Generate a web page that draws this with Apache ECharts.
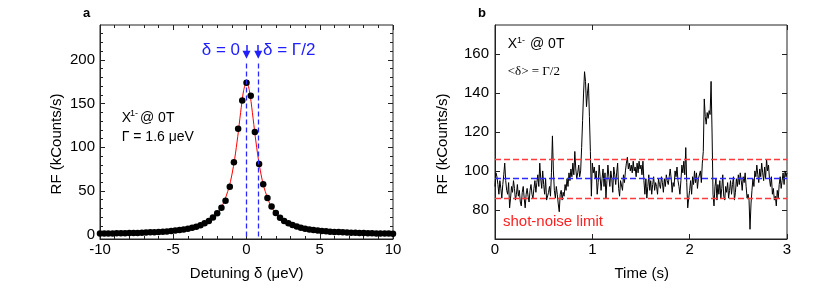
<!DOCTYPE html>
<html><head><meta charset="utf-8">
<script src="https://cdn.jsdelivr.net/npm/echarts@6/dist/echarts.min.js"></script>
<style>html,body{margin:0;padding:0;background:#fff}#c{width:830px;height:291px}</style>
</head><body><div id="c"></div>
<script>
// ---- Panel a: detuning scan ----
const detuning = [-10.00,-9.71,-9.43,-9.14,-8.86,-8.57,-8.29,-8.00,-7.71,-7.43,-7.14,-6.86,-6.57,-6.29,-6.00,-5.71,-5.43,-5.14,-4.86,-4.57,-4.29,-4.00,-3.71,-3.43,-3.14,-2.86,-2.57,-2.29,-2.00,-1.71,-1.43,-1.14,-0.86,-0.57,-0.29,0.00,
  0.29,0.57,0.86,1.14,1.43,1.71,2.00,2.29,2.57,2.86,3.14,3.43,3.71,4.00,4.29,4.57,4.86,5.14,5.43,5.71,6.00,6.29,6.57,6.86,7.14,7.43,7.71,8.00,8.29,8.57,8.86,9.14,9.43,9.71,10.00];
const rfCounts = [1.2,1.3,1.3,1.4,1.5,1.6,1.7,1.8,1.9,2.0,2.2,2.4,2.6,2.8,3.1,3.4,3.7,4.1,4.6,5.2,5.9,6.8,7.9,9.1,10.8,12.9,15.6,19.6,24.4,30.8,38.8,54.7,82.9,121.3,153.6,174,
  159,117.5,81,57.7,41.8,32.1,24.8,19.4,15.7,12.9,10.9,9.2,7.9,6.8,6.0,5.3,4.7,4.2,3.8,3.4,3.1,2.9,2.6,2.4,2.2,2.1,1.9,1.8,1.7,1.5,1.4,1.4,1.3,1.2,1.1];
const fitX = [-10,-8,-6,-5,-4,-3,-2.5,-2,-1.6,-1.2,-1.0,-0.8,-0.6,-0.4,-0.2,0,0.2,0.4,0.6,0.8,1.0,1.2,1.6,2,2.5,3,4,5,6,8,10];
const fitY = [1.1,1.7,3.1,4.4,6.7,11.6,16.3,24.1,35,53.8,68.3,87.5,112,140,164.7,175,164.7,140,112,87.5,68.3,53.8,35,24.1,16.3,11.6,6.7,4.4,3.1,1.7,1.1];
const markerX = [0, 0.8];
const yTicksA = [0,50,100,150,200];
const yMinorA = [10,20,30,40,60,70,80,90,110,120,130,140,160,170,180,190,210,220,230];

// ---- Panel b: time trace ----
const rfTime = [
0.00,0.01,0.02,0.03,0.04,0.05,0.06,0.07,0.08,0.09,
0.10,0.11,0.12,0.13,0.14,0.15,0.16,0.17,0.18,0.19,
0.20,0.21,0.22,0.23,0.24,0.25,0.26,0.27,0.28,0.29,
0.30,0.31,0.32,0.33,0.34,0.35,0.36,0.37,0.38,0.39,
0.40,0.41,0.42,0.43,0.44,0.45,0.46,0.47,0.48,0.49,
0.50,0.51,0.52,0.53,0.54,0.55,0.56,0.57,0.58,0.59,
0.60,0.61,0.62,0.63,0.64,0.65,0.66,0.67,0.68,0.69,
0.70,0.71,0.72,0.73,0.74,0.75,0.76,0.77,0.78,0.79,
0.80,0.81,0.82,0.83,0.84,0.85,0.86,0.87,0.88,0.89,
0.90,0.91,0.92,0.93,0.94,0.95,0.96,0.97,0.98,0.99,
1.00,1.01,1.02,1.03,1.04,1.05,1.06,1.07,1.08,1.09,
1.10,1.11,1.12,1.13,1.14,1.15,1.16,1.17,1.18,1.19,
1.20,1.21,1.22,1.23,1.24,1.25,1.26,1.27,1.28,1.29,
1.30,1.31,1.32,1.33,1.34,1.35,1.36,1.37,1.38,1.39,
1.40,1.41,1.42,1.43,1.44,1.45,1.46,1.47,1.48,1.49,
1.50,1.51,1.52,1.53,1.54,1.55,1.56,1.57,1.58,1.59,
1.60,1.61,1.62,1.63,1.64,1.65,1.66,1.67,1.68,1.69,
1.70,1.71,1.72,1.73,1.74,1.75,1.76,1.77,1.78,1.79,
1.80,1.81,1.82,1.83,1.84,1.85,1.86,1.87,1.88,1.89,
1.90,1.91,1.92,1.93,1.94,1.95,1.96,1.97,1.98,1.99,
2.00,2.01,2.02,2.03,2.04,2.05,2.06,2.07,2.08,2.09,
2.10,2.11,2.12,2.13,2.14,2.15,2.16,2.17,2.18,2.19,
2.20,2.21,2.22,2.23,2.24,2.25,2.26,2.27,2.28,2.29,
2.30,2.31,2.32,2.33,2.34,2.35,2.36,2.37,2.38,2.39,
2.40,2.41,2.42,2.43,2.44,2.45,2.46,2.47,2.48,2.49,
2.50,2.51,2.52,2.53,2.54,2.55,2.56,2.57,2.58,2.59,
2.60,2.61,2.62,2.63,2.64,2.65,2.66,2.67,2.68,2.69,
2.70,2.71,2.72,2.73,2.74,2.75,2.76,2.77,2.78,2.79,
2.80,2.81,2.82,2.83,2.84,2.85,2.86,2.87,2.88,2.89,
2.90,2.91,2.92,2.93,2.94,2.95,2.96,2.97,2.98,2.99,
3.00];
const rfTrace = [
92,99,97,93,88,95,91,86,93,98,
104,95,90,88,94,81,86,92,89,95,
91,85,88,93,87,90,84,82,89,92,
86,81,88,91,87,84,90,93,88,86,
91,95,89,94,98,92,104,96,91,100,
93,88,96,85,84,89,92,87,99,118,
100,90,86,92,88,83,79,88,90,85,
89,87,93,90,96,92,99,95,101,97,
104,98,110,101,96,99,103,97,100,112,
126,140,151,146,133,140,145,128,110,87,
104,99,102,96,100,88,94,103,97,90,
96,101,92,99,86,95,103,97,92,100,
96,89,102,98,93,99,104,91,87,95,
95,90,98,94,100,104,107,101,104,100,
103,99,105,100,102,97,104,99,105,101,
103,98,105,95,88,96,86,92,98,90,
95,88,93,97,90,94,92,88,96,93,
91,97,94,89,96,92,98,95,93,97,
101,96,89,94,92,100,97,102,95,92,
88,95,103,99,105,98,112,94,81,86,
90,95,88,97,93,100,94,99,91,96,
96,100,94,104,110,137,128,124,130,127,
131,129,146,120,88,82,92,96,85,93,
88,95,86,91,98,87,85,92,89,94,
86,90,95,88,93,97,85,89,96,92,
98,93,99,95,90,97,94,99,92,86,
88,85,70,83,90,96,92,100,97,103,
98,94,101,97,104,99,95,102,96,106,
100,103,96,92,97,88,91,85,87,82,
90,86,93,97,91,95,99,93,100,97,
99];
const meanLevel = 96;
const shotNoise = [86.2, 105.8];
const yTicksB = [80,100,120,140,160];

const FONT = '"Liberation Sans", Arial, sans-serif';
const zip = (a, b) => a.map((v, i) => [v, b[i]]);
const lineC = '#222';
const tickBase = {show:true, inside:true, length:5, lineStyle:{color:lineC, width:1}};
const minorBase = {show:true, splitNumber:5, length:3, lineStyle:{color:lineC, width:1}};
const lblBase = {color:'#000', fontSize:15, fontFamily:FONT};
const noLine = {show:false, onZero:false};
const solidLine = {show:true, onZero:false, lineStyle:{color:lineC, width:1}};

const chart = echarts.init(document.getElementById('c'), null, {renderer:'canvas'});
chart.setOption({
  animation:false,
  backgroundColor:'#fff',
  grid:[
    {left:100, top:25, width:293, height:214, show:true, borderColor:lineC, borderWidth:1, backgroundColor:'transparent'},
    {left:495, top:25, width:292, height:214, show:true, borderColor:lineC, borderWidth:1, backgroundColor:'transparent'}
  ],
  xAxis:[
    {gridIndex:0, type:'value', min:-10, max:10, interval:5, position:'bottom',
     axisLine:solidLine, axisTick:tickBase, minorTick:minorBase, splitLine:{show:false},
     axisLabel:Object.assign({margin:3}, lblBase)},
    {gridIndex:0, type:'value', min:-10, max:10, interval:5, position:'top',
     axisLine:noLine, axisTick:tickBase, minorTick:minorBase, splitLine:{show:false}, axisLabel:{show:false}},
    {gridIndex:1, type:'value', min:0, max:3, interval:1, position:'bottom',
     axisLine:solidLine, axisTick:tickBase, splitLine:{show:false},
     axisLabel:Object.assign({margin:3}, lblBase)},
    {gridIndex:1, type:'value', min:0, max:3, interval:1, position:'top',
     axisLine:noLine, axisTick:tickBase, splitLine:{show:false}, axisLabel:{show:false}}
  ],
  yAxis:[
    {gridIndex:0, type:'value', min:-5, max:240, position:'left',
     axisLine:solidLine, splitLine:{show:false},
     axisTick:Object.assign({customValues:yTicksA}, tickBase),
     axisLabel:Object.assign({margin:5, customValues:yTicksA}, lblBase)},
    {gridIndex:0, type:'value', min:-5, max:240, position:'left',
     axisLine:noLine, splitLine:{show:false},
     axisTick:{show:true, inside:true, length:3, customValues:yMinorA, lineStyle:{color:lineC}}, axisLabel:{show:false}},
    {gridIndex:0, type:'value', min:-5, max:240, position:'right',
     axisLine:noLine, splitLine:{show:false},
     axisTick:Object.assign({customValues:yTicksA}, tickBase), axisLabel:{show:false}},
    {gridIndex:0, type:'value', min:-5, max:240, position:'right',
     axisLine:noLine, splitLine:{show:false},
     axisTick:{show:true, inside:true, length:3, customValues:yMinorA, lineStyle:{color:lineC}}, axisLabel:{show:false}},
    {gridIndex:1, type:'value', min:65, max:175, position:'left',
     axisLine:solidLine, splitLine:{show:false},
     axisTick:Object.assign({customValues:yTicksB}, tickBase),
     axisLabel:Object.assign({margin:6, customValues:yTicksB}, lblBase)},
    {gridIndex:1, type:'value', min:65, max:175, position:'right',
     axisLine:noLine, splitLine:{show:false},
     axisTick:Object.assign({customValues:yTicksB}, tickBase), axisLabel:{show:false}}
  ],
  series:[
    {type:'line', xAxisIndex:0, yAxisIndex:0, data:zip(fitX, fitY), smooth:0.3, showSymbol:false,
     lineStyle:{color:'#ff0000', width:1}, silent:true, z:2},
    {type:'scatter', xAxisIndex:0, yAxisIndex:0, data:zip(detuning, rfCounts), symbolSize:6.5,
     itemStyle:{color:'#000', opacity:1}, silent:true, z:3,
     markLine:{silent:true, symbol:['none','none'], label:{show:false},
       lineStyle:{color:'#2a2aff', type:[5,3], width:1.3},
       data: markerX.map(x => [{coord:[x,196]},{coord:[x,-5]}])}},
    {type:'line', xAxisIndex:0, yAxisIndex:0, data:[], z:4,
     markLine:{silent:true, symbol:['none','triangle'], symbolSize:[8,8], label:{show:false},
       lineStyle:{color:'#1f1fff', type:'solid', width:1.5},
       data: markerX.map(x => [{coord:[x,217]},{coord:[x,206]}])}},
    {type:'line', xAxisIndex:2, yAxisIndex:4, data:zip(rfTime, rfTrace), showSymbol:false,
     lineStyle:{color:'#000', width:1}, silent:true, z:3,
     markLine:{silent:true, symbol:['none','none'], label:{show:false},
       data:[
         {yAxis:shotNoise[1], lineStyle:{color:'#ff3a3a', type:[6,3], width:1.3}},
         {yAxis:meanLevel, lineStyle:{color:'#2a2aff', type:[6,3], width:1.3}},
         {yAxis:shotNoise[0], lineStyle:{color:'#ff3a3a', type:[6,3], width:1.3}}
       ]}}
  ],
  graphic:[
    {type:'text', style:{text:'a', x:83, y:13, textVerticalAlign:'middle', font:'bold 13px '+FONT, fill:'#000'}},
    {type:'text', style:{text:'b', x:478, y:13, textVerticalAlign:'middle', font:'bold 13px '+FONT, fill:'#000'}},
    {type:'text', style:{text:'δ = 0', x:240, y:50, textAlign:'right', textVerticalAlign:'middle', font:'17px '+FONT, fill:'#2020ff'}},
    {type:'text', style:{text:'δ = Γ/2', x:263, y:50, textAlign:'left', textVerticalAlign:'middle', font:'17px '+FONT, fill:'#2020ff'}},
    {type:'text', style:{text:'X', x:121.7, y:118, textVerticalAlign:'middle', font:'14px '+FONT, fill:'#000'}},
    {type:'text', style:{text:'1-', x:130, y:114, textVerticalAlign:'middle', font:'9px '+FONT, fill:'#000'}},
    {type:'text', style:{text:'@ 0T', x:140, y:118, textVerticalAlign:'middle', font:'14px '+FONT, fill:'#000'}},
    {type:'text', style:{text:'Γ = 1.6 μeV', x:121.7, y:137, textVerticalAlign:'middle', font:'14px '+FONT, fill:'#000'}},
    {type:'text', style:{text:'X', x:507.7, y:44.5, textVerticalAlign:'middle', font:'14px '+FONT, fill:'#000'}},
    {type:'text', style:{text:'1-', x:517, y:40.5, textVerticalAlign:'middle', font:'9px '+FONT, fill:'#000'}},
    {type:'text', style:{text:'@ 0T', x:530, y:44.5, textVerticalAlign:'middle', font:'14px '+FONT, fill:'#000'}},
    {type:'text', style:{text:'<δ> = Γ/2', x:507.7, y:72, textVerticalAlign:'middle', font:'13px "Liberation Serif", serif', fill:'#000'}},
    {type:'text', style:{text:'shot-noise limit', x:503, y:222, textVerticalAlign:'middle', font:'15px '+FONT, fill:'#ff2020'}},
    {type:'text', rotation:Math.PI/2, x:56.7, y:144, style:{text:'RF (kCounts/s)', x:0, y:0, textAlign:'center', textVerticalAlign:'middle', font:'15px '+FONT, fill:'#000'}},
    {type:'text', rotation:Math.PI/2, x:443.3, y:144, style:{text:'RF (kCounts/s)', x:0, y:0, textAlign:'center', textVerticalAlign:'middle', font:'15px '+FONT, fill:'#000'}},
    {type:'text', style:{text:'Detuning δ (μeV)', x:246.7, y:274, textAlign:'center', textVerticalAlign:'middle', font:'15px '+FONT, fill:'#000'}},
    {type:'text', style:{text:'Time (s)', x:641.7, y:274, textAlign:'center', textVerticalAlign:'middle', font:'15px '+FONT, fill:'#000'}}
  ]
});
</script></body></html>
